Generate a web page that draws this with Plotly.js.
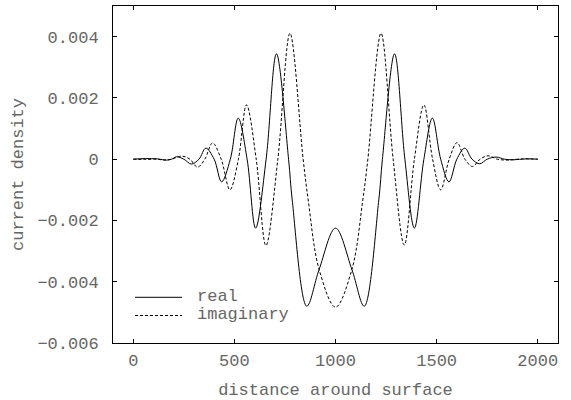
<!DOCTYPE html>
<html>
<head>
<meta charset="utf-8">
<script src="https://cdn.plot.ly/plotly-3.0.1.min.js"></script>
<style>html,body{margin:0;padding:0;background:#fff;}#chart{width:571px;height:400px;}</style>
</head>
<body>
<div id="chart"></div>
<script>
// Values
var realX = [0, 60, 120, 165, 190, 214, 250, 288, 325, 359, 400, 437, 480, 519, 563, 605, 657, 708, 768, 786, 858, 919, 1000, 1081, 1142, 1214, 1232, 1292, 1343, 1390, 1437, 1479, 1520, 1561, 1600, 1639, 1675, 1713, 1750, 1795, 1835, 1880, 1940, 2000];
var realY = [0, 0.00002, 0.00001, -0.00003, 0, 0.00008, 0, -0.00016, 0, 0.00036, 0, -0.00074, 0, 0.00134, 0, -0.00225, 0, 0.00344, 0, -0.00133, -0.0048, -0.0036, -0.00225, -0.0036, -0.0048, -0.00133, 0, 0.00344, 0, -0.00225, 0, 0.00134, 0, -0.00074, 0, 0.00036, 0, -0.00015, 0, 0.00007, 0, -0.00002, 0.00001, 0];
var imagX = [0, 60, 120, 150, 190, 239, 280, 318, 354, 392, 435, 478, 520, 560, 608, 656, 715, 775, 840, 865, 919, 1000, 1081, 1135, 1160, 1225, 1285, 1340, 1390, 1437, 1480, 1520, 1562, 1601, 1640, 1677, 1715, 1754, 1800, 1850, 1920, 2000];
var imagY = [0, -0.00001, 0, -0.00003, 0, 0.0001, 0, -0.00026, 0, 0.00053, 0, -0.001, 0, 0.00177, 0, -0.00282, 0, 0.00411, 0, -0.00133, -0.0036, -0.00483, -0.0036, -0.00133, 0, 0.00411, 0, -0.0028, 0, 0.00177, 0, -0.001, 0, 0.00054, 0, -0.00024, 0, 0.00011, 0, -0.00003, 0.00001, 0];
var seriesNames = ['real', 'imaginary'];
var xTitle = 'distance around surface';
var yTitle = 'current density';

var fontFam = '"Courier New", "Liberation Mono", monospace';
var textCol = '#666666';
var dashStyle = '3px,2px';

var traces = [
  {x: realX, y: realY, name: seriesNames[0], type: 'scatter', mode: 'lines', showlegend: false,
   line: {color: '#000', width: 1, shape: 'spline', smoothing: 1}},
  {x: imagX, y: imagY, name: seriesNames[1], type: 'scatter', mode: 'lines', showlegend: false,
   line: {color: '#000', width: 1, dash: dashStyle, shape: 'spline', smoothing: 1}}
];

// Key (legend) drawn in paper coordinates, like the reference's inset key
var keyRows = [0.1356, 0.0816];
var keyShapes = keyRows.map(function (yy, i) {
  return {type: 'line', xref: 'paper', yref: 'paper', x0: 0.0494, x1: 0.155, y0: yy, y1: yy,
          line: {color: '#000', width: 1, dash: i === 0 ? 'solid' : dashStyle}};
});
var keyLabels = keyRows.map(function (yy, i) {
  return {xref: 'paper', yref: 'paper', x: 0.184, y: yy, xanchor: 'left', yanchor: 'middle',
          text: seriesNames[i], showarrow: false, yshift: 1,
          font: {family: fontFam, size: 17, color: textCol}};
});

var axisCommon = {
  showline: true, linecolor: '#000', linewidth: 1, mirror: 'ticks',
  ticks: 'inside', ticklen: 4, tickcolor: '#000', tickwidth: 1,
  showgrid: false, zeroline: false,
  tickfont: {family: fontFam, size: 17, color: textCol}
};

var layout = {
  width: 571, height: 400,
  margin: {l: 113, r: 13, t: 6, b: 57},
  paper_bgcolor: '#fff', plot_bgcolor: '#fff',
  showlegend: false,
  shapes: keyShapes,
  annotations: keyLabels,
  xaxis: Object.assign({}, axisCommon, {
    range: [-100, 2100], tickmode: 'linear', tick0: 0, dtick: 500,
    ticklabelstandoff: 2,
    title: {text: xTitle, font: {family: fontFam, size: 17, color: textCol}, standoff: 14}
  }),
  yaxis: Object.assign({}, axisCommon, {
    range: [-0.006, 0.005], tickmode: 'linear', tick0: 0, dtick: 0.002,
    ticklabelstandoff: 10,
    title: {text: yTitle, font: {family: fontFam, size: 17, color: textCol}, standoff: 9}
  })
};

Plotly.newPlot('chart', traces, layout, {displayModeBar: false, staticPlot: true});
</script>
</body>
</html>
